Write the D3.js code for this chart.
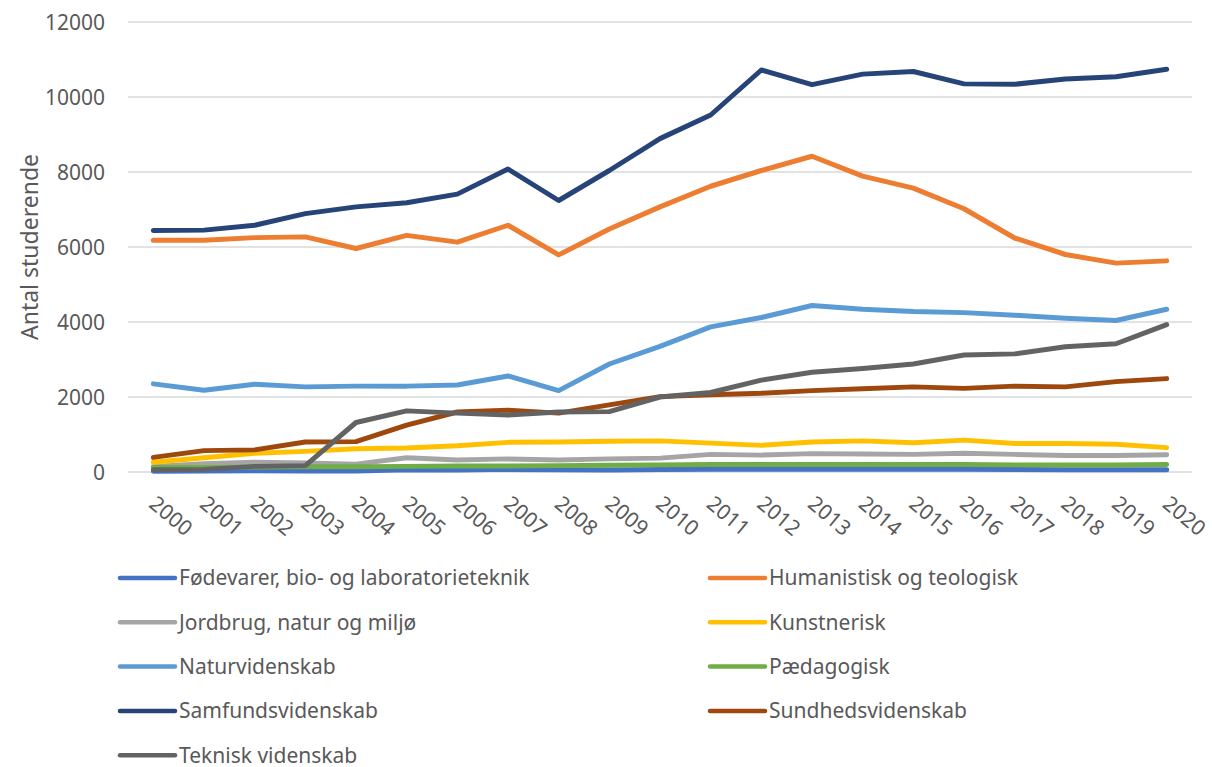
<!DOCTYPE html>
<html>
<head>
<meta charset="utf-8">
<script src="https://cdn.jsdelivr.net/npm/d3@7"></script>
<style>
    body { margin: 0; background: #fff; }
    svg text { font-family: "Noto Sans", "Open Sans", sans-serif; fill: #595959; }
</style>
</head>
<body>
<div id="chart"></div>
<script>
    // data
    let years = d3.range(2000, 2021).map(String);

    let fodevarer = [20, 25, 30, 30, 25, 60, 50, 70, 60, 55, 65, 70, 75, 75, 75, 75, 70, 70, 60, 60, 60];
    let humanistisk = [6180, 6180, 6250, 6270, 5960, 6310, 6130, 6580, 5790, 6480, 7070, 7620, 8040, 8420, 7890, 7570, 7020, 6240, 5800, 5570, 5630];
    let jordbrug = [150, 220, 260, 240, 210, 380, 320, 350, 320, 350, 370, 470, 450, 490, 480, 470, 500, 470, 440, 440, 460];
    let kunstnerisk = [260, 380, 500, 550, 620, 640, 700, 790, 800, 820, 830, 770, 710, 800, 830, 780, 850, 760, 760, 740, 650];
    let naturvidenskab = [2350, 2180, 2340, 2270, 2290, 2290, 2320, 2560, 2170, 2880, 3350, 3870, 4120, 4440, 4340, 4280, 4250, 4180, 4100, 4040, 4340];
    let paedagogisk = [120, 120, 130, 140, 140, 150, 160, 160, 170, 180, 190, 200, 200, 200, 200, 200, 200, 190, 190, 190, 200];
    let samfund = [6440, 6450, 6580, 6890, 7070, 7180, 7410, 8080, 7240, 8040, 8890, 9520, 10720, 10330, 10610, 10680, 10350, 10340, 10480, 10540, 10740];
    let sundhed = [390, 570, 590, 800, 810, 1250, 1600, 1650, 1570, 1790, 2010, 2060, 2100, 2170, 2220, 2270, 2230, 2290, 2270, 2410, 2490];
    let teknisk = [60, 70, 150, 170, 1320, 1630, 1570, 1520, 1600, 1610, 2000, 2120, 2450, 2660, 2760, 2880, 3120, 3150, 3340, 3420, 3930];

    let names = ["Fødevarer, bio- og laboratorieteknik", "Humanistisk og teologisk", "Jordbrug, natur og miljø",
        "Kunstnerisk", "Naturvidenskab", "Pædagogisk", "Samfundsvidenskab", "Sundhedsvidenskab", "Teknisk videnskab"];
    let colors = ["#4472C4", "#ED7D31", "#A5A5A5", "#FFC000", "#5B9BD5", "#70AD47", "#264478", "#9E480E", "#636363"];
    let yTicks = [0, 2000, 4000, 6000, 8000, 10000, 12000];

    let series = [fodevarer, humanistisk, jordbrug, kunstnerisk, naturvidenskab, paedagogisk, samfund, sundhed, teknisk]
        .map(function (vals, i) {
            return { name: names[i], color: colors[i], values: vals };
        });

    let width = 1212,
        height = 767;

    let svg = d3.select('#chart').append('svg')
        .attr('width', width)
        .attr('height', height);

    let x = d3.scalePoint()
        .domain(years)
        .range([128, 1192])
        .padding(0.5);

    let y = d3.scaleLinear()
        .domain([0, 12000])
        .range([472, 22]);

    // gridlines
    svg.append('g')
        .selectAll('line')
        .data(yTicks)
        .enter()
        .append('line')
        .attr('x1', 128)
        .attr('x2', 1192)
        .attr('y1', function (d) { return y(d) })
        .attr('y2', function (d) { return y(d) })
        .attr('stroke', '#d9d9d9')
        .attr('stroke-width', 1.5);

    // Y AXIS
    let yAxis = svg.append('g')
        .attr('transform', 'translate(128,0)')
        .call(d3.axisLeft(y).tickValues(yTicks).tickSize(0).tickPadding(23).tickFormat(d3.format('d')));
    yAxis.select('.domain').remove();
    yAxis.selectAll('text')
        .style('font-size', '21px')
        .attr('dy', '0.35em');

    // X AXIS
    let xAxis = svg.append('g')
        .attr('transform', 'translate(0,472)')
        .call(d3.axisBottom(x).tickSize(0));
    xAxis.select('.domain').remove();
    xAxis.selectAll('text')
        .style('font-size', '21px')
        .attr('x', 0)
        .attr('y', 0)
        .attr('dy', 0)
        .attr('text-anchor', 'start')
        .attr('transform', 'translate(-6,34) rotate(40)');

    svg.append('text')
        .attr('transform', 'translate(30,247) rotate(-90)')
        .attr('text-anchor', 'middle')
        .attr('dy', '0.35em')
        .style('font-size', '23px')
        .text('Antal studerende');

    // lines
    let line = d3.line()
        .x(function (d, i) { return x(years[i]) })
        .y(function (d) { return y(d) });

    svg.append('g')
        .selectAll('path')
        .data(series)
        .enter()
        .append('path')
        .attr('d', function (d) { return line(d.values) })
        .attr('fill', 'none')
        .attr('stroke', function (d) { return d.color })
        .attr('stroke-width', 5)
        .attr('stroke-linecap', 'round')
        .attr('stroke-linejoin', 'round');

    // legend
    let legend = svg.append('g')
        .selectAll('g')
        .data(series)
        .enter()
        .append('g')
        .attr('transform', function (d, i) {
            let col = i % 2,
                row = Math.floor(i / 2);
            return 'translate(' + (col === 0 ? 120 : 710) + ',' + (578 + row * 44.3) + ')';
        });

    legend.append('line')
        .attr('x1', 0)
        .attr('x2', 55)
        .attr('stroke', function (d) { return d.color })
        .attr('stroke-width', 4.5)
        .attr('stroke-linecap', 'round');

    legend.append('text')
        .attr('x', 59)
        .attr('dy', '0.35em')
        .style('font-size', '21px')
        .text(function (d) { return d.name });
</script>
</body>
</html>
